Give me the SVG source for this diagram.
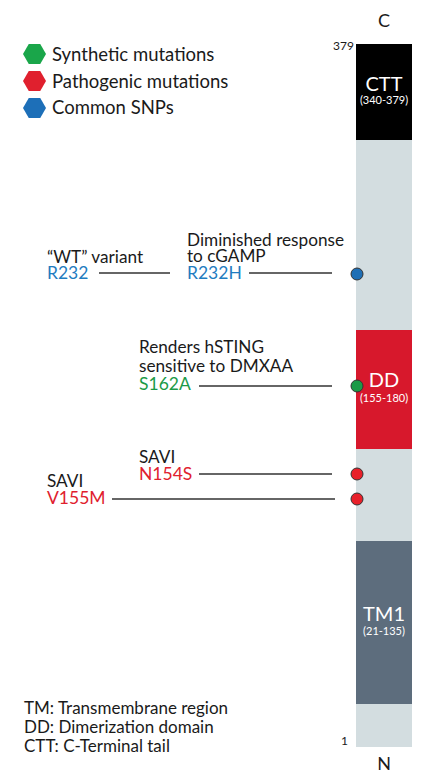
<svg xmlns="http://www.w3.org/2000/svg" width="430" height="777" viewBox="0 0 430 777">
<style>
text{font-family:Lato,"Open Sans","Liberation Sans",sans-serif;}
.t{font-size:17.2px;fill:#1a1a1a;}
.lg{font-size:18.5px;fill:#1a1a1a;}
.bl{font-size:17px;fill:#1a1a1a;}
.blue{font-size:17.5px;fill:#1f7cc0;}
.green{font-size:17.5px;fill:#1b9a47;}
.red{font-size:17.5px;fill:#e0202e;}
.dom{font-size:20px;fill:#fff;text-anchor:middle;}
.rng{font-size:11px;fill:#fff;text-anchor:middle;}
.end{font-size:18px;fill:#1a1a1a;text-anchor:middle;}
.num{font-size:12px;fill:#1a1a1a;text-anchor:end;}
.ln{stroke:#333;stroke-width:1.5;fill:none;}
.dot{stroke:#333;stroke-width:1;}
</style>
<g id="legend">
<polygon points="23,54 28.75,44 40.25,44 46,54 40.25,64 28.75,64" fill="#1aa64a"/>
<text class="lg" x="52" y="61">Synthetic mutations</text>
<polygon points="23,81 28.75,71 40.25,71 46,81 40.25,91 28.75,91" fill="#e0202e"/>
<text class="lg" x="52" y="88">Pathogenic mutations</text>
<polygon points="23,108 28.75,98 40.25,98 46,108 40.25,118 28.75,118" fill="#1d6fb8"/>
<text class="lg" x="52" y="114">Common SNPs</text>
</g>
<g id="protein">
<rect x="356" y="44" width="56" height="703" fill="#d3dde0"/>
<rect id="CTT" x="356" y="44" width="56" height="96" fill="#000"/>
<rect id="DD" x="356" y="330" width="56" height="119" fill="#d7182c"/>
<rect id="TM1" x="356" y="541" width="56" height="163" fill="#5d6d7d"/>
<text class="dom" x="384" y="91">CTT</text>
<text class="rng" x="384" y="104">(340-379)</text>
<text class="dom" x="384" y="387">DD</text>
<text class="rng" x="384" y="402">(155-180)</text>
<text class="dom" x="384" y="621">TM1</text>
<text class="rng" x="384" y="635">(21-135)</text>
<text class="end" x="384" y="27">C</text>
<text class="end" x="384" y="770">N</text>
<text class="num" x="354" y="50">379</text>
<text class="num" x="348" y="745">1</text>
</g>
<g id="connectors">
<line class="ln" x1="99" y1="273" x2="170" y2="273"/>
<line class="ln" x1="249" y1="273" x2="332" y2="273"/>
<line class="ln" x1="199" y1="386" x2="332" y2="386"/>
<line class="ln" x1="199" y1="474" x2="332" y2="474"/>
<line class="ln" x1="112" y1="499" x2="335" y2="499"/>
</g>
<g id="R232">
<text class="t" x="47" y="263">“WT” variant</text>
<text class="blue" x="47" y="279">R232</text>
</g>
<g id="R232H">
<text class="t" x="187" y="246">Diminished response</text>
<text class="t" x="187" y="262">to cGAMP</text>
<text class="blue" x="187" y="279">R232H</text>
<circle class="dot" cx="357" cy="274" r="6" fill="#1f6fb5"/>
</g>
<g id="S162A">
<text class="t" x="139" y="353">Renders hSTING</text>
<text class="t" x="139" y="372">sensitive to DMXAA</text>
<text class="green" x="139" y="390">S162A</text>
<circle class="dot" cx="357" cy="386" r="6" fill="#1b9a47"/>
</g>
<g id="N154S">
<text class="t" x="139" y="463">SAVI</text>
<text class="red" x="139" y="480">N154S</text>
<circle class="dot" cx="357" cy="474" r="6" fill="#e8202a"/>
</g>
<g id="V155M">
<text class="t" x="47" y="487">SAVI</text>
<text class="red" x="47" y="504">V155M</text>
<circle class="dot" cx="357" cy="499" r="6" fill="#e8202a"/>
</g>
<g id="abbrev">
<text class="bl" x="24" y="714">TM: Transmembrane region</text>
<text class="bl" x="24" y="733">DD: Dimerization domain</text>
<text class="bl" x="24" y="752">CTT: C-Terminal tail</text>
</g>
</svg>
